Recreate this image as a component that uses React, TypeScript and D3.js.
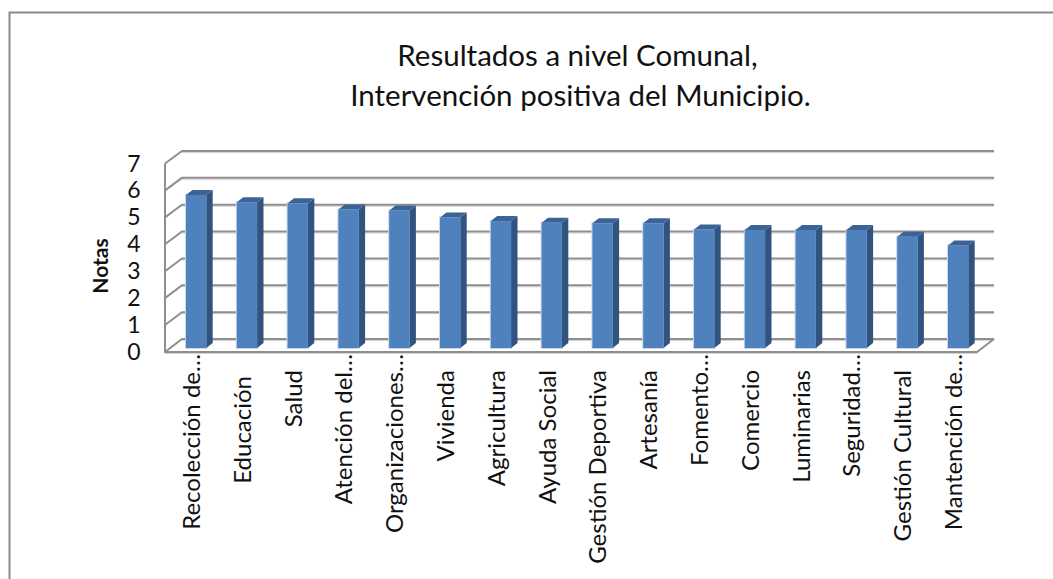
import React from "react";
import * as d3 from "d3";

const categories = ["Recolección de…","Educación","Salud","Atención del…","Organizaciones…","Vivienda","Agricultura","Ayuda Social","Gestión Deportiva","Artesanía","Fomento…","Comercio","Luminarias","Seguridad…","Gestión Cultural","Mantención de…"];
const notas = [5.67,5.4,5.36,5.13,5.09,4.83,4.7,4.64,4.62,4.62,4.39,4.37,4.37,4.37,4.12,3.8];
const ticks = [0,1,2,3,4,5,6,7];
const titleLines = ["Resultados a nivel Comunal,","Intervención positiva del Municipio."];
const yTitle = "Notas";

const FONT = "Lato, 'Open Sans', sans-serif";
const GRID = "#8f8f8f";
const GRID_SHADOW = "#d4d4d4";

export default function App() {
  const yFront = d3.scaleLinear().domain([0, 7]).range([352, 163.5]);
  const yBack = d3.scaleLinear().domain([0, 7]).range([339, 151]);
  const yBar = d3.scaleLinear().domain([0, 7]).range([348, 159]);
  const x = d3.scaleLinear().domain([0, 15]).range([186, 948]);
  const left = 165, backLeft = 182, right = 977, backRight = 994;
  const bd = 6.4, bt = 5;
  const bw = 20.3;

  const labelY = (c: string) => {
    if (c.endsWith("…")) return 354;
    return c === "Educación" ? 376 : 370;
  };

  return (
    <svg width={1053} height={579} style={{ position: "fixed", left: 0, top: 0, background: "#fff" }} fontFamily={FONT}>
      <path d="M9.5,579V12.5H1053" fill="none" stroke="#8a8a8a" strokeWidth={2} />

      {titleLines.map((t, i) => (
        <text key={t} x={i === 0 ? 577.5 : 580.5} y={66 + i * 40} textAnchor="middle" fontSize={29.5} fill="#111">{t}</text>
      ))}

      {ticks.map((t) => (
        <g key={t}>
          <path d={`M${backLeft},${yBack(t) + 1.5}H${backRight}`} stroke={GRID_SHADOW} strokeWidth={1} fill="none" />
          <path d={`M${left},${yFront(t)}L${backLeft},${yBack(t)}H${backRight}`} stroke={GRID} strokeWidth={2} fill="none" />
        </g>
      ))}
      <path d={`M${left},${yFront(7)}V${yFront(0)}H${right}L${backRight},${yBack(0)}`} stroke={GRID} strokeWidth={2} fill="none" />
      <path d={`M${left},${yFront(0) + 1.5}H${right}`} stroke={GRID_SHADOW} strokeWidth={1} fill="none" />

      {notas.map((v, i) => {
        const x0 = x(i), x1 = x0 + bw, y0 = yBar(v), yb = yBar(0);
        return (
          <g key={i}>
            <rect x={x0 - 1} y={y0 - 1} width={bw + 2} height={yb - y0 + 2} fill="#c6d7ec" />
            <path d={`M${x1},${y0}l${bd},${-bt}V${yb - bt}l${-bd},${bt}Z`} fill="#31537f" />
            <path d={`M${x0},${y0}l${bd},${-bt}H${x1 + bd}l${-bd},${bt}Z`} fill="#3b6396" />
            <rect x={x0} y={y0} width={bw} height={yb - y0} fill="#4f81bd" />
          </g>
        );
      })}

      {ticks.map((t) => (
        <text key={t} x={140.5} y={yFront(t) + 8} textAnchor="end" fontSize={23} fill="#111">{t}</text>
      ))}
      <text transform="translate(107.5,266) rotate(-90)" textAnchor="middle" fontSize={21} fontWeight={700} fill="#111">{yTitle}</text>

      {categories.map((c, i) => (
        <text key={c} transform={`translate(${x(i) + 14},${labelY(c)}) rotate(-90)`} textAnchor="end" fontSize={24} fill="#111">{c}</text>
      ))}
    </svg>
  );
}
